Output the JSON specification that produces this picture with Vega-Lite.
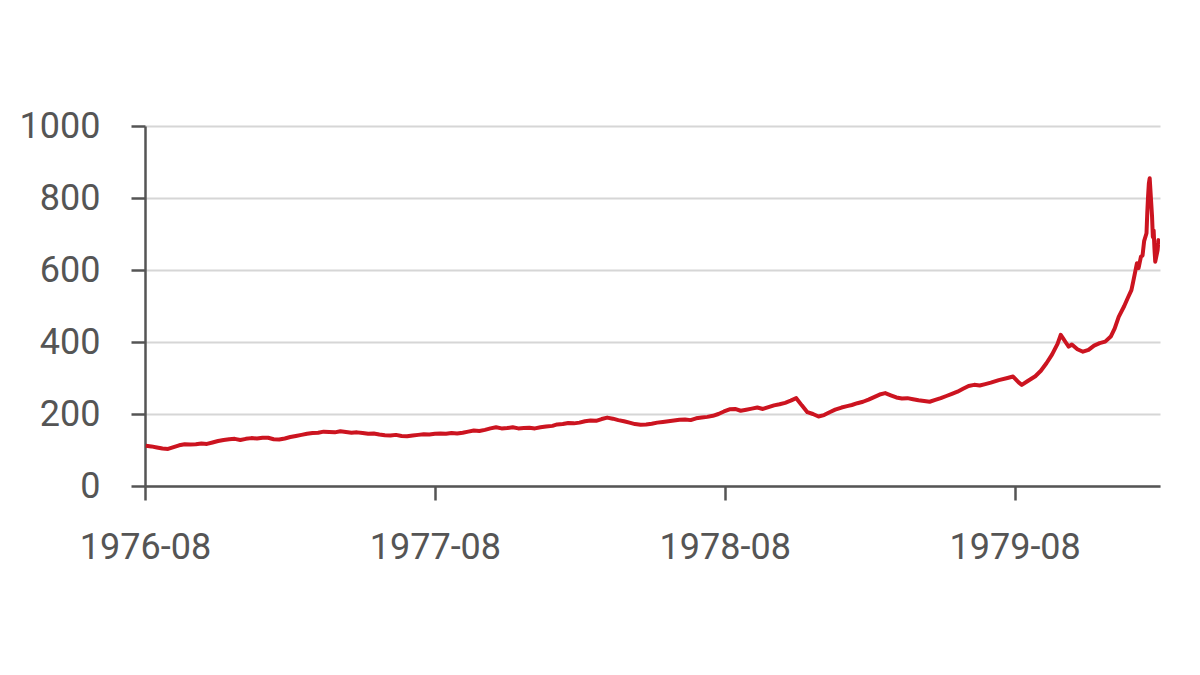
{
  "$schema": "https://vega.github.io/schema/vega-lite/v6.json",
  "width": 1015,
  "height": 360,
  "autosize": {"type": "none"},
  "padding": {"left": 145, "top": 126, "right": 40, "bottom": 189},
  "background": "white",
  "config": {
    "view": {"stroke": null},
    "axis": {
      "labelFont": "Roboto",
      "labelFontSize": 36,
      "labelColor": "#555555",
      "domainColor": "#555555",
      "domainWidth": 2.5,
      "tickColor": "#555555",
      "tickWidth": 2.5,
      "tickSize": 14,
      "gridColor": "#d6d6d6",
      "gridWidth": 2,
      "title": null
    }
  },
  "data": {
    "values": [
      {"date": "1976-08-02", "price": 112}, {"date": "1976-08-09", "price": 110}, {"date": "1976-08-16", "price": 107},
      {"date": "1976-08-23", "price": 104}, {"date": "1976-08-30", "price": 103}, {"date": "1976-09-06", "price": 108},
      {"date": "1976-09-13", "price": 113}, {"date": "1976-09-20", "price": 116}, {"date": "1976-09-27", "price": 115},
      {"date": "1976-10-04", "price": 116}, {"date": "1976-10-11", "price": 118}, {"date": "1976-10-18", "price": 117},
      {"date": "1976-10-25", "price": 121}, {"date": "1976-11-01", "price": 125}, {"date": "1976-11-08", "price": 128},
      {"date": "1976-11-15", "price": 130}, {"date": "1976-11-22", "price": 131}, {"date": "1976-11-29", "price": 128},
      {"date": "1976-12-06", "price": 131}, {"date": "1976-12-13", "price": 133}, {"date": "1976-12-20", "price": 132},
      {"date": "1976-12-27", "price": 134}, {"date": "1977-01-03", "price": 134}, {"date": "1977-01-10", "price": 130},
      {"date": "1977-01-17", "price": 129}, {"date": "1977-01-24", "price": 132}, {"date": "1977-01-31", "price": 136},
      {"date": "1977-02-07", "price": 139}, {"date": "1977-02-14", "price": 142}, {"date": "1977-02-21", "price": 145},
      {"date": "1977-02-28", "price": 147}, {"date": "1977-03-07", "price": 148}, {"date": "1977-03-14", "price": 151},
      {"date": "1977-03-21", "price": 150}, {"date": "1977-03-28", "price": 149}, {"date": "1977-04-04", "price": 152},
      {"date": "1977-04-11", "price": 150}, {"date": "1977-04-18", "price": 148}, {"date": "1977-04-25", "price": 149},
      {"date": "1977-05-02", "price": 147}, {"date": "1977-05-09", "price": 145}, {"date": "1977-05-16", "price": 146},
      {"date": "1977-05-23", "price": 143}, {"date": "1977-05-30", "price": 141}, {"date": "1977-06-06", "price": 140},
      {"date": "1977-06-13", "price": 142}, {"date": "1977-06-20", "price": 139}, {"date": "1977-06-27", "price": 138},
      {"date": "1977-07-04", "price": 140}, {"date": "1977-07-11", "price": 142}, {"date": "1977-07-18", "price": 144},
      {"date": "1977-07-25", "price": 143}, {"date": "1977-08-01", "price": 145}, {"date": "1977-08-08", "price": 146},
      {"date": "1977-08-15", "price": 145}, {"date": "1977-08-22", "price": 147}, {"date": "1977-08-29", "price": 146},
      {"date": "1977-09-05", "price": 148}, {"date": "1977-09-12", "price": 151}, {"date": "1977-09-19", "price": 154},
      {"date": "1977-09-26", "price": 153}, {"date": "1977-10-03", "price": 156}, {"date": "1977-10-10", "price": 160},
      {"date": "1977-10-17", "price": 163}, {"date": "1977-10-24", "price": 160}, {"date": "1977-10-31", "price": 161},
      {"date": "1977-11-07", "price": 163}, {"date": "1977-11-14", "price": 160}, {"date": "1977-11-21", "price": 161},
      {"date": "1977-11-28", "price": 162}, {"date": "1977-12-05", "price": 160}, {"date": "1977-12-12", "price": 163},
      {"date": "1977-12-19", "price": 165}, {"date": "1977-12-27", "price": 167}, {"date": "1978-01-02", "price": 171},
      {"date": "1978-01-09", "price": 172}, {"date": "1978-01-16", "price": 175}, {"date": "1978-01-23", "price": 174},
      {"date": "1978-01-30", "price": 176}, {"date": "1978-02-06", "price": 180}, {"date": "1978-02-13", "price": 182},
      {"date": "1978-02-20", "price": 181}, {"date": "1978-02-27", "price": 186}, {"date": "1978-03-06", "price": 190},
      {"date": "1978-03-13", "price": 187}, {"date": "1978-03-20", "price": 183}, {"date": "1978-03-27", "price": 180},
      {"date": "1978-04-03", "price": 176}, {"date": "1978-04-10", "price": 172}, {"date": "1978-04-17", "price": 170},
      {"date": "1978-04-24", "price": 171}, {"date": "1978-05-01", "price": 173}, {"date": "1978-05-08", "price": 176},
      {"date": "1978-05-15", "price": 178}, {"date": "1978-05-22", "price": 180}, {"date": "1978-05-29", "price": 182},
      {"date": "1978-06-05", "price": 184}, {"date": "1978-06-12", "price": 185}, {"date": "1978-06-19", "price": 183},
      {"date": "1978-06-26", "price": 188}, {"date": "1978-07-03", "price": 190}, {"date": "1978-07-10", "price": 192},
      {"date": "1978-07-17", "price": 195}, {"date": "1978-07-24", "price": 200}, {"date": "1978-07-31", "price": 207},
      {"date": "1978-08-07", "price": 213}, {"date": "1978-08-14", "price": 214}, {"date": "1978-08-21", "price": 209},
      {"date": "1978-08-28", "price": 212}, {"date": "1978-09-04", "price": 215}, {"date": "1978-09-11", "price": 218},
      {"date": "1978-09-18", "price": 214}, {"date": "1978-09-25", "price": 219}, {"date": "1978-10-02", "price": 224},
      {"date": "1978-10-09", "price": 227}, {"date": "1978-10-16", "price": 231}, {"date": "1978-10-23", "price": 237},
      {"date": "1978-10-30", "price": 244}, {"date": "1978-11-06", "price": 224}, {"date": "1978-11-13", "price": 205},
      {"date": "1978-11-20", "price": 200}, {"date": "1978-11-27", "price": 193}, {"date": "1978-12-04", "price": 197},
      {"date": "1978-12-11", "price": 205}, {"date": "1978-12-18", "price": 212}, {"date": "1978-12-26", "price": 218},
      {"date": "1979-01-02", "price": 222}, {"date": "1979-01-08", "price": 225}, {"date": "1979-01-15", "price": 230},
      {"date": "1979-01-22", "price": 234}, {"date": "1979-01-29", "price": 240}, {"date": "1979-02-05", "price": 247},
      {"date": "1979-02-12", "price": 254}, {"date": "1979-02-19", "price": 258}, {"date": "1979-02-26", "price": 252},
      {"date": "1979-03-05", "price": 246}, {"date": "1979-03-12", "price": 243}, {"date": "1979-03-19", "price": 244},
      {"date": "1979-03-26", "price": 241}, {"date": "1979-04-02", "price": 238}, {"date": "1979-04-09", "price": 236},
      {"date": "1979-04-16", "price": 234}, {"date": "1979-04-23", "price": 239}, {"date": "1979-04-30", "price": 244},
      {"date": "1979-05-07", "price": 250}, {"date": "1979-05-14", "price": 256}, {"date": "1979-05-21", "price": 262},
      {"date": "1979-05-28", "price": 270}, {"date": "1979-06-04", "price": 278}, {"date": "1979-06-11", "price": 281},
      {"date": "1979-06-18", "price": 279}, {"date": "1979-06-25", "price": 283}, {"date": "1979-07-02", "price": 287},
      {"date": "1979-07-12", "price": 294}, {"date": "1979-07-23", "price": 300}, {"date": "1979-07-30", "price": 304},
      {"date": "1979-08-06", "price": 288}, {"date": "1979-08-10", "price": 281}, {"date": "1979-08-17", "price": 291},
      {"date": "1979-08-27", "price": 305}, {"date": "1979-09-03", "price": 320}, {"date": "1979-09-10", "price": 341},
      {"date": "1979-09-17", "price": 365}, {"date": "1979-09-24", "price": 395}, {"date": "1979-09-28", "price": 420},
      {"date": "1979-10-01", "price": 410}, {"date": "1979-10-04", "price": 400}, {"date": "1979-10-08", "price": 387},
      {"date": "1979-10-12", "price": 393}, {"date": "1979-10-19", "price": 380}, {"date": "1979-10-26", "price": 373},
      {"date": "1979-11-02", "price": 378}, {"date": "1979-11-09", "price": 390}, {"date": "1979-11-16", "price": 397},
      {"date": "1979-11-23", "price": 401}, {"date": "1979-11-30", "price": 415}, {"date": "1979-12-05", "price": 438},
      {"date": "1979-12-10", "price": 470}, {"date": "1979-12-17", "price": 500}, {"date": "1979-12-21", "price": 520},
      {"date": "1979-12-26", "price": 544}, {"date": "1979-12-28", "price": 565}, {"date": "1980-01-02", "price": 619},
      {"date": "1980-01-04", "price": 605}, {"date": "1980-01-07", "price": 637}, {"date": "1980-01-09", "price": 640},
      {"date": "1980-01-11", "price": 680}, {"date": "1980-01-14", "price": 702}, {"date": "1980-01-15", "price": 760},
      {"date": "1980-01-16", "price": 805}, {"date": "1980-01-17", "price": 841}, {"date": "1980-01-18", "price": 855},
      {"date": "1980-01-21", "price": 748}, {"date": "1980-01-22", "price": 692}, {"date": "1980-01-23", "price": 710},
      {"date": "1980-01-24", "price": 660}, {"date": "1980-01-25", "price": 623}, {"date": "1980-01-28", "price": 655},
      {"date": "1980-01-29", "price": 683}, {"date": "1980-01-30", "price": 670}
    ]
  },
  "mark": {"type": "line", "color": "#cc1420", "strokeWidth": 4, "strokeJoin": "round", "clip": true},
  "encoding": {
    "x": {
      "field": "date",
      "type": "temporal",
      "scale": {
        "type": "utc",
        "domain": [
          {"year": 1976, "month": 8, "date": 1, "utc": true},
          {"year": 1980, "month": 1, "date": 31, "utc": true}
        ]
      },
      "axis": {
        "values": [
          {"year": 1976, "month": 8, "date": 1, "utc": true},
          {"year": 1977, "month": 8, "date": 1, "utc": true},
          {"year": 1978, "month": 8, "date": 1, "utc": true},
          {"year": 1979, "month": 8, "date": 1, "utc": true}
        ],
        "format": "%Y-%m",
        "grid": false,
        "labelPadding": 30,
        "labelFlush": false
      }
    },
    "y": {
      "field": "price",
      "type": "quantitative",
      "scale": {"domain": [0, 1000], "nice": false},
      "axis": {
        "values": [0, 200, 400, 600, 800, 1000],
        "format": "d",
        "grid": true,
        "labelPadding": 31,
        "domain": true
      }
    }
  }
}
